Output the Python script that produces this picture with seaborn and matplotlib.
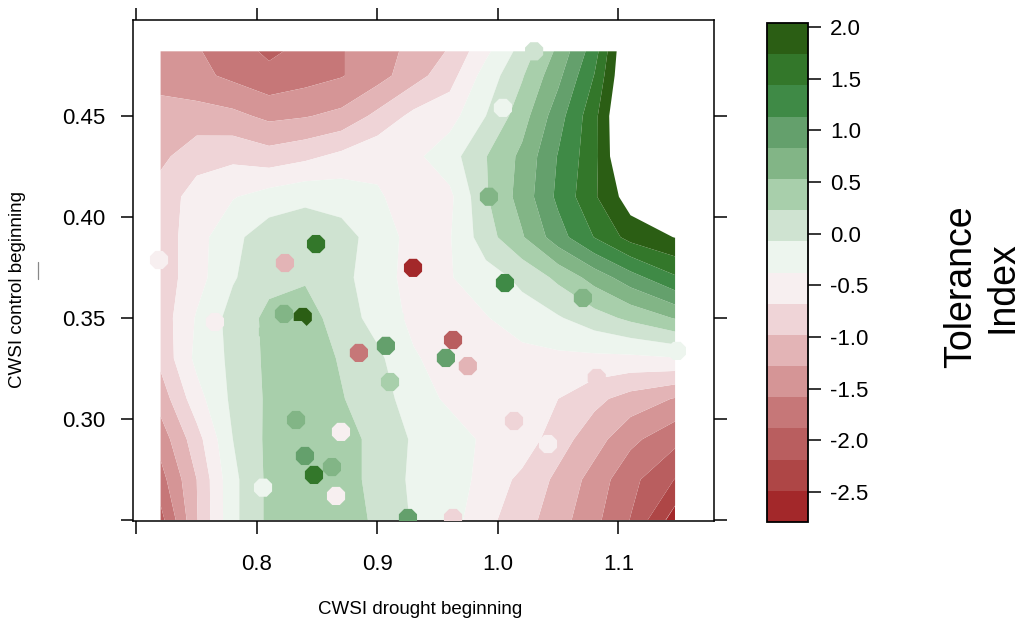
import numpy as np
import pandas as pd
import matplotlib
matplotlib.use("Agg")
import matplotlib.pyplot as plt
import matplotlib.colors as mcolors
from matplotlib.lines import Line2D
import seaborn as sns

# ---------------- data ----------------
# surface grid : columns = CWSI drought, rows = CWSI control (top -> bottom)
grid_drought = [0.72, 0.75, 0.78, 0.81, 0.84, 0.87, 0.90, 0.93, 0.96, 0.99, 1.02, 1.05, 1.08, 1.11, 1.147]
grid_control = [0.482, 0.47, 0.45, 0.43, 0.41, 0.39, 0.37, 0.35, 0.33, 0.31, 0.29, 0.27, 0.25]
row_0482 = [-1.45, -1.55, -1.75, -1.95, -1.80, -1.60, -1.40, -1.20, -0.95, -0.45, 0.05, 0.60, 1.30, 2.50, 2.90]
row_0470 = [-1.45, -1.50, -1.65, -1.80, -1.70, -1.60, -1.40, -1.10, -0.80, -0.25, 0.20, 0.75, 1.45, 2.50, 2.90]
row_0450 = [-1.10, -1.15, -1.20, -1.35, -1.30, -1.20, -0.90, -0.60, -0.50, -0.07, 0.40, 1.00, 1.65, 2.60, 2.90]
row_0430 = [-1.05, -0.80, -0.75, -0.85, -0.75, -0.60, -0.45, -0.45, -0.20, 0.22, 0.60, 1.15, 1.65, 2.55, 2.80]
row_0410 = [-0.85, -0.55, -0.40, -0.25, -0.15, -0.20, -0.35, -0.50, -0.45, 0.20, 0.65, 1.20, 1.70, 2.20, 2.60]
row_0390 = [-0.85, -0.50, -0.15, 0.10, 0.15, 0.05, -0.20, -0.50, -0.40, 0.10, 0.50, 1.00, 1.45, 1.85, 2.05]
row_0370 = [-0.85, -0.50, -0.10, 0.15, 0.20, 0.05, -0.30, -0.45, -0.40, -0.20, 0.00, 0.30, 0.65, 1.00, 1.40]
row_0350 = [-0.85, -0.35, 0.05, 0.30, 0.35, 0.10, -0.20, -0.45, -0.50, -0.40, -0.20, -0.10, 0.10, 0.30, 0.55]
row_0330 = [-0.90, -0.30, 0.00, 0.30, 0.40, 0.20, 0.00, -0.35, -0.50, -0.55, -0.50, -0.45, -0.45, -0.45, -0.40]
row_0310 = [-1.15, -0.50, 0.00, 0.28, 0.45, 0.25, 0.05, -0.20, -0.45, -0.50, -0.55, -0.68, -0.90, -1.10, -1.30]
row_0290 = [-1.45, -0.80, -0.07, 0.30, 0.45, 0.40, 0.10, -0.10, -0.20, -0.45, -0.50, -0.85, -1.15, -1.50, -1.80]
row_0270 = [-1.70, -0.98, -0.15, 0.30, 0.45, 0.40, 0.10, -0.12, -0.20, -0.50, -0.75, -1.05, -1.40, -1.80, -2.20]
row_0250 = [-2.00, -1.00, -0.15, 0.30, 0.45, 0.45, 0.15, -0.10, -0.25, -0.60, -0.85, -1.15, -1.50, -1.90, -2.65]

# observed genotypes
pt_drought = [0.7187, 0.8232, 0.8490, 0.9295, 1.0300, 1.0041, 0.9925, 1.0058, 1.0705, 0.9627,
              0.9568, 0.9750, 1.0820, 1.1485, 1.0133, 1.0415, 0.9627, 0.8224, 0.8380, 0.7651,
              0.8091, 0.8340, 0.9145, 0.8846, 0.9070, 0.8580, 0.9104, 0.8324, 0.8697, 0.8398,
              0.8622, 0.8473, 0.8656, 0.8050, 0.9253]
pt_control = [0.3787, 0.3772, 0.3866, 0.3748, 0.4820, 0.4540, 0.4100, 0.3673, 0.3599, 0.3391,
              0.3302, 0.3262, 0.3203, 0.3337, 0.2990, 0.2876, 0.2510, 0.3520, 0.3505, 0.3480,
              0.3431, 0.3440, 0.3500, 0.3327, 0.3362, 0.3262, 0.3183, 0.2995, 0.2936, 0.2817,
              0.2762, 0.2723, 0.2619, 0.2660, 0.2510]
pt_index = [-0.45, -1.00, 1.60, -2.60, 0.10, -0.20, 0.70, 1.40, 0.75, -2.00,
            0.85, -1.10, -0.80, -0.20, -0.85, -0.50, -0.80, 0.70, 1.90, -0.50,
            0.40, 0.45, -0.20, -1.70, 0.85, 0.45, 0.45, 0.75, -0.50, 1.00,
            0.75, 1.60, -0.50, -0.20, 1.10]

level_bounds = [-2.79, -2.49, -2.19, -1.89, -1.58, -1.28, -0.98, -0.68, -0.38,
                -0.07, 0.23, 0.53, 0.83, 1.13, 1.44, 1.74, 2.04]
band_colors = ["#a3282a", "#ae4646", "#b95e5f", "#c67778", "#d59596", "#e3b4b6",
               "#efd4d7", "#f7eff0", "#edf5ee", "#cfe3d1", "#a8cfab", "#82b586",
               "#64a06c", "#3f8a46", "#33772a", "#2b5e14"]

x_ticks = [0.7, 0.8, 0.9, 1.0, 1.1]
x_ticklabels = ["", "0.8", "0.9", "1.0", "1.1"]
y_ticks = [0.25, 0.30, 0.35, 0.40, 0.45]
y_ticklabels = ["", "0.30", "0.35", "0.40", "0.45"]
cb_ticks = [-2.5, -2.0, -1.5, -1.0, -0.5, 0.0, 0.5, 1.0, 1.5, 2.0]

# ---------------- style ----------------
sns.set_style("white")
plt.rcParams['font.family'] = ['Liberation Sans', 'DejaVu Sans']
plt.rcParams['text.color'] = 'black'
plt.rcParams['xtick.color'] = 'black'
plt.rcParams['ytick.color'] = 'black'
plt.rcParams['xtick.bottom'] = True
plt.rcParams['ytick.left'] = True

W, H = 1035, 624
fig = plt.figure(figsize=(W / 100, H / 100), dpi=100)

def px_rect(l, t, r, b):
    return [l / W, 1 - b / H, (r - l) / W, (b - t) / H]

ax = fig.add_axes(px_rect(133, 20, 714, 521))

Z = np.array([row_0482, row_0470, row_0450, row_0430, row_0410, row_0390, row_0370,
              row_0350, row_0330, row_0310, row_0290, row_0270, row_0250])
cs = ax.contourf(grid_drought, grid_control, Z, levels=level_bounds, colors=band_colors,
                 antialiased=True, zorder=1)

cmap = mcolors.ListedColormap(band_colors)
norm = mcolors.BoundaryNorm(level_bounds, cmap.N)
df = pd.DataFrame({"drought": pt_drought, "control": pt_control, "ti": pt_index})
sns.scatterplot(data=df, x="drought", y="control", hue="ti", palette=cmap, hue_norm=norm,
                s=200, marker="8", linewidth=0, legend=False, ax=ax, zorder=3)

ax.set_xlim(0.6971, 1.1793)
ax.set_ylim(0.2495, 0.4975)
ax.set_xticks(x_ticks)
ax.set_xticklabels(x_ticklabels)
ax.set_yticks(y_ticks)
ax.set_yticklabels(y_ticklabels)
ax.set_xlabel("")
ax.set_ylabel("")
ax.tick_params(axis="both", which="major", direction="out", length=9, width=1.1,
               color="black", labelcolor="black",
               bottom=True, left=True, top=True, right=True,
               labelbottom=True, labelleft=True, labeltop=False, labelright=False,
               labelsize=16)
ax.tick_params(axis="x", pad=15)
ax.tick_params(axis="y", pad=11)
for sp in ax.spines.values():
    sp.set_visible(True)
    sp.set_color("black")
    sp.set_linewidth(1.1)
ax.set_facecolor("white")

fig.text(420 / W, 1 - 609 / H, "CWSI drought beginning", ha="center", va="center",
         fontsize=13.5, color="black")
fig.text(18 / W, 1 - 289 / H, "CWSI control beginning", ha="center", va="center",
         rotation=90, fontsize=13.5, color="black")
fig.add_artist(Line2D([38 / W, 38 / W], [1 - 262 / H, 1 - 279 / H], color="#888888", lw=0.9))

# colour key
cax = fig.add_axes(px_rect(767, 23, 808, 522))
cb = fig.colorbar(cs, cax=cax, ticks=cb_ticks)
cb.ax.set_yticklabels([f"{t:.1f}" for t in cb_ticks])
cb.ax.tick_params(direction="out", length=9, width=1.1, labelsize=16, pad=7,
                  color="black", labelcolor="black", right=True, left=False)
cb.outline.set_edgecolor("black")
cb.outline.set_linewidth(1.3)

fig.text(982 / W, 1 - 287 / H, "Tolerance\nIndex", ha="center", va="center",
         rotation=90, fontsize=27, linespacing=1.2, multialignment="center", color="black")

fig.savefig("out.png", dpi=100)
